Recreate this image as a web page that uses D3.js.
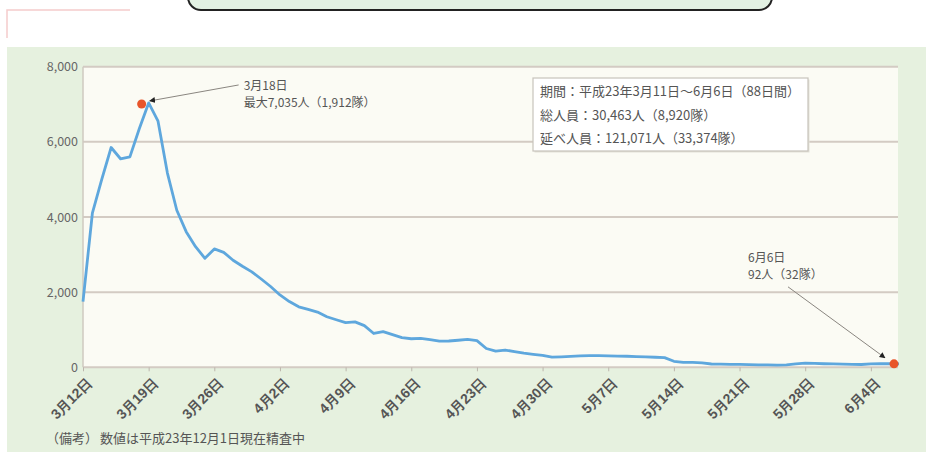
<!DOCTYPE html>
<html>
<head>
<meta charset="utf-8">
<script src="https://cdn.jsdelivr.net/npm/d3@7"></script>
<style>
  html, body { margin: 0; padding: 0; background: #ffffff; }
  svg { display: block; font-family: "Noto Sans CJK JP", "Noto Sans", sans-serif; }
</style>
</head>
<body>
<svg id="chart" width="926" height="452"></svg>
<script>
// Daily number of personnel dispatched, 3/11 – 6/6 (88 days)
const dailyPeople = [
  1750, 4100, 5000, 5850, 5550, 5600, 6350, 7035, 6550, 5170,
  4180, 3610, 3210, 2900, 3150, 3060, 2850, 2690, 2540, 2350,
  2150, 1925, 1750, 1610, 1540, 1470, 1345, 1265, 1190, 1210,
  1110, 900, 950, 870, 790, 760, 770, 735, 695, 700,
  720, 745, 710, 500, 430, 460, 415, 375, 345, 320,
  270, 280, 292, 305, 309, 309, 305, 300, 294, 285,
  276, 267, 258, 160, 133, 133, 120, 88, 85, 80,
  78, 70, 65, 62, 60, 62, 90, 110, 105, 95,
  90, 85, 80, 75, 90, 95, 95, 92
];

// Category tick labels, one every 7 days
const tickIndex = [0, 7, 14, 21, 28, 35, 42, 49, 56, 63, 70, 77, 84];
const tickLabels = [
  "3月12日", "3月19日", "3月26日", "4月2日", "4月9日", "4月16日", "4月23日",
  "4月30日", "5月7日", "5月14日", "5月21日", "5月28日", "6月4日"
];

const yTicks = [0, 2000, 4000, 6000, 8000];

// Highlighted days
const highlightIndex = [7, 87];
const highlightValue = [7035, 92];
const highlightText = [
  ["3月18日", "最大7,035人（1,912隊）"],
  ["6月6日", "92人（32隊）"]
];

const summaryLines = [
  "期間：平成23年3月11日～6月6日（88日間）",
  "総人員：30,463人（8,920隊）",
  "延べ人員：121,071人（33,374隊）"
];

const noteLabel = "（備考）";
const noteText = "数値は平成23年12月1日現在精査中";

const svg = d3.select("#chart");

// Header chrome
svg.append("path")
  .attr("d", "M7,38 V10 H130")
  .attr("fill", "none")
  .attr("stroke", "#f5cccc")
  .attr("stroke-width", 1.5);
svg.append("rect")
  .attr("x", 188).attr("y", -30).attr("width", 584).attr("height", 40)
  .attr("rx", 13)
  .attr("fill", "#e2f1e3")
  .attr("stroke", "#222")
  .attr("stroke-width", 2);

// Green panel
svg.append("rect")
  .attr("x", 7).attr("y", 47).attr("width", 919).attr("height", 405)
  .attr("fill", "#e6f1df");

const plot = { left: 83, right: 898, top: 66.7, bottom: 367.3 };

const x = d3.scaleLinear().domain([0, dailyPeople.length - 1]).range([plot.left, 899]);
const y = d3.scaleLinear().domain([0, 8000]).range([plot.bottom, plot.top]);

svg.append("rect")
  .attr("x", plot.left).attr("y", plot.top)
  .attr("width", plot.right - plot.left).attr("height", plot.bottom - plot.top)
  .attr("fill", "#fbfbf4");

// Horizontal gridlines
svg.append("g")
  .selectAll("line")
  .data(yTicks)
  .join("line")
  .attr("x1", plot.left).attr("x2", plot.right)
  .attr("y1", d => y(d)).attr("y2", d => y(d))
  .attr("stroke", "#d3cbc3")
  .attr("stroke-width", 2);

// Left axis line
svg.append("line")
  .attr("x1", plot.left).attr("x2", plot.left)
  .attr("y1", plot.top).attr("y2", plot.bottom)
  .attr("stroke", "#cfcac0").attr("stroke-width", 1.5);

// Y axis labels
const yAxis = d3.axisLeft(y).tickValues(yTicks).tickSize(0).tickPadding(5)
  .tickFormat(d3.format(","));
const gy = svg.append("g").attr("transform", `translate(${plot.left},0)`).call(yAxis);
gy.select(".domain").remove();
gy.selectAll("text")
  .attr("font-size", 12.5)
  .attr("fill", "#666")
  .attr("font-family", "'Noto Sans CJK JP', sans-serif");

// X axis ticks and rotated labels
const xAxis = d3.axisBottom(x).tickValues(tickIndex).tickSize(4)
  .tickFormat((d, i) => tickLabels[i]);
const gx = svg.append("g").attr("transform", `translate(0,${plot.bottom})`).call(xAxis);
gx.select(".domain").remove();
gx.selectAll("line").attr("stroke", "#bdb6ad");
gx.selectAll("text")
  .attr("font-size", 14)
  .attr("font-weight", "bold")
  .attr("fill", "#555")
  .attr("text-anchor", "end")
  .attr("transform", "translate(6,13) rotate(-45)")
  .attr("x", 0).attr("y", 0).attr("dy", "0.35em");

// Personnel line
const line = d3.line().x((d, i) => x(i)).y(d => y(d));
svg.append("path")
  .datum(dailyPeople)
  .attr("d", line)
  .attr("fill", "none")
  .attr("stroke", "#5ea7dd")
  .attr("stroke-width", 2.8)
  .attr("stroke-linejoin", "round");

// Annotation layout: dot shift, arrow tip offset, leader start, label origin
const annoLayout = [
  { dot: [-7, 1], tip: [1, -2], lead: [90, -18], label: [95, -13] },
  { dot: [-5, 0], tip: [-14, -6], lead: [-111, -77], label: [-151, -102] }
];

svg.append("defs").append("marker")
  .attr("id", "tip")
  .attr("viewBox", "0 0 10 10")
  .attr("refX", 9).attr("refY", 5)
  .attr("markerWidth", 6).attr("markerHeight", 6)
  .attr("orient", "auto-start-reverse")
  .append("path")
  .attr("d", "M0,0 L10,5 L0,10 z")
  .attr("fill", "#222");

highlightIndex.forEach((idx, k) => {
  const px = x(idx), py = y(highlightValue[k]);
  const L = annoLayout[k];
  svg.append("line")
    .attr("x1", px + L.lead[0]).attr("y1", py + L.lead[1])
    .attr("x2", px + L.tip[0]).attr("y2", py + L.tip[1])
    .attr("stroke", "#8a8680").attr("stroke-width", 1)
    .attr("marker-end", "url(#tip)");
  svg.append("circle")
    .attr("cx", px + L.dot[0]).attr("cy", py + L.dot[1])
    .attr("r", 4.5)
    .attr("fill", "#e8552a");
  // one text element per line so the lines keep their own boxes
  highlightText[k].forEach((s, j) => {
    svg.append("text")
      .attr("x", px + L.label[0])
      .attr("y", py + L.label[1] + j * 17.5)
      .attr("font-size", 12)
      .attr("fill", "#555")
      .text(s);
  });
});

// Summary box
const box = svg.append("g").attr("transform", "translate(533,78)");
box.append("rect")
  .attr("x", 1.5).attr("y", 1.5).attr("width", 275).attr("height", 73)
  .attr("fill", "#e4e1d8");
box.append("rect")
  .attr("width", 275).attr("height", 73)
  .attr("fill", "#fff")
  .attr("stroke", "#c7c3bb").attr("stroke-width", 1.2);
box.selectAll("text")
  .data(summaryLines)
  .join("text")
  .attr("x", 7)
  .attr("y", (d, i) => 18 + i * 23.5)
  .attr("font-size", 13)
  .attr("fill", "#555")
  .text(d => d);

// Footnote
svg.append("text")
  .attr("x", 46).attr("y", 443)
  .attr("font-size", 13).attr("fill", "#555")
  .text(noteLabel);
svg.append("text")
  .attr("x", 100).attr("y", 443)
  .attr("font-size", 13).attr("fill", "#555")
  .text(noteText);
</script>
</body>
</html>
